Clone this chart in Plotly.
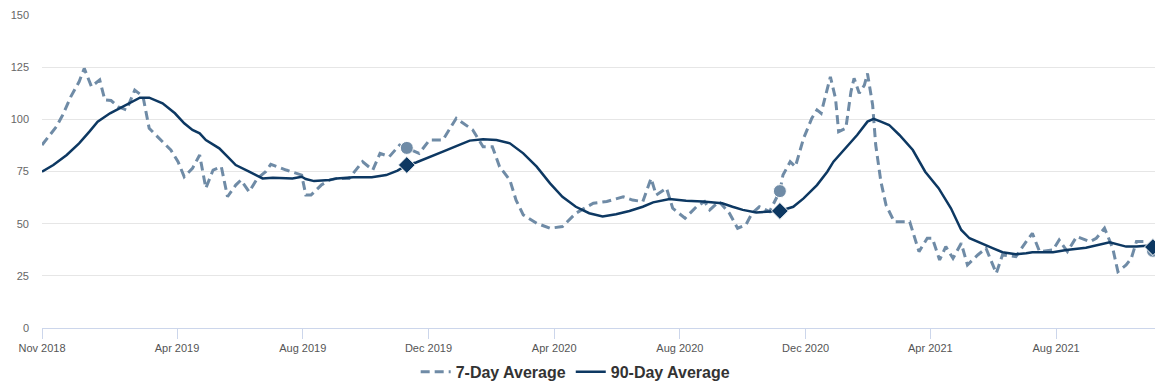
import plotly.graph_objects as go

# 7-Day Average
d7_dates = ["2018-11-21","2018-12-05","2018-12-11","2018-12-19","2018-12-27","2019-01-01","2019-01-08","2019-01-16",
 "2019-01-21","2019-01-27","2019-02-03","2019-02-11","2019-02-19","2019-02-27","2019-03-05","2019-03-18","2019-03-26",
 "2019-04-02","2019-04-08","2019-04-16","2019-04-23","2019-04-29","2019-05-06","2019-05-14","2019-05-20","2019-05-28",
 "2019-06-02","2019-06-10","2019-06-18","2019-06-26","2019-07-01","2019-07-16","2019-07-31","2019-08-04","2019-08-09",
 "2019-08-19","2019-08-27","2019-09-03","2019-09-15","2019-09-28","2019-10-08","2019-10-15","2019-10-24","2019-11-03",
 "2019-11-10","2019-11-22","2019-12-02","2019-12-15","2019-12-28","2020-01-13","2020-01-23","2020-02-01","2020-02-08",
 "2020-02-18","2020-02-24","2020-03-02","2020-03-15","2020-03-28","2020-04-09","2020-04-22","2020-05-09","2020-05-22",
 "2020-06-07","2020-06-16","2020-06-26","2020-07-04","2020-07-09","2020-07-19","2020-07-25","2020-08-06","2020-08-17",
 "2020-08-25","2020-08-30","2020-09-08","2020-09-18","2020-09-26","2020-10-04","2020-10-10","2020-10-17","2020-10-27",
 "2020-11-06","2020-11-09","2020-11-16","2020-11-21","2020-11-29","2020-12-07","2020-12-12","2020-12-16","2020-12-25",
 "2020-12-30","2021-01-02","2021-01-09","2021-01-14","2021-01-17","2021-01-22","2021-01-27","2021-01-30","2021-02-04",
 "2021-02-07","2021-02-12","2021-02-17","2021-02-25","2021-03-12","2021-03-21","2021-03-29","2021-04-03","2021-04-10",
 "2021-04-16","2021-04-23","2021-05-01","2021-05-07","2021-05-17","2021-05-25","2021-06-04","2021-06-10","2021-06-23",
 "2021-07-03","2021-07-09","2021-07-16","2021-07-29","2021-08-04","2021-08-12","2021-08-21","2021-09-03","2021-09-09",
 "2021-09-17","2021-09-25","2021-09-30","2021-10-08","2021-10-13","2021-10-18","2021-10-26","2021-11-03"]
d7_values = [87.7,96.5,102,110.9,118,124.4,115.7,118.9,
 109.3,109,106,104.5,114,111,95.7,89.3,85.3,
 79.7,72.5,76.5,82.9,67,75.7,77.3,62.9,68.5,
 70.9,65.3,71.7,74.9,78.4,75.7,73.3,63.7,63.7,
 68.5,70.9,71.7,71.7,79.7,75.7,83.7,82.1,87.7,
 86.3,83.7,90.1,90.1,100.5,94.9,86.9,86.9,77.3,
 70.9,61.3,54.2,50.2,47.8,48.6,55,59.8,60.6,
 62.9,61.3,60.6,71.7,63.7,67,57.4,52.6,58.1,
 60.6,56.6,60.6,55,47.8,49.4,55,58.1,55.8,
 65.6,73.3,79.7,77.3,90.9,100.5,104.5,102.9,120.4,
 110,94.1,95.7,113.3,119.7,112.5,116.4,122,106.9,
 87.7,70.2,58.9,50.9,50.9,36.6,43,43,32.6,
 39,33.4,40.6,30.2,35,38.2,26.2,35,34.2,
 41.4,45.4,36.6,37.4,42.2,36.6,43.8,41.4,43,
 47.8,38.2,27,30.2,33.4,41.4,41.4,37]

# 90-Day Average
d90_dates = ["2018-11-21","2018-12-02","2018-12-15","2018-12-27","2019-01-06","2019-01-14","2019-01-26","2019-02-04",
 "2019-02-14","2019-02-24","2019-03-05","2019-03-18","2019-03-30","2019-04-08","2019-04-16","2019-04-23","2019-04-29",
 "2019-05-12","2019-05-20","2019-05-28","2019-06-10","2019-06-23","2019-07-03","2019-07-16","2019-07-22","2019-07-31",
 "2019-08-04","2019-08-12","2019-08-27","2019-09-03","2019-09-19","2019-10-07","2019-10-21","2019-11-01","2019-11-10",
 "2019-11-19","2019-12-02","2019-12-15","2019-12-28","2020-01-10","2020-01-23","2020-02-05","2020-02-18","2020-03-02",
 "2020-03-15","2020-03-28","2020-04-09","2020-04-22","2020-05-05","2020-05-18","2020-05-31","2020-06-13","2020-06-26",
 "2020-07-06","2020-07-22","2020-08-07","2020-08-23","2020-09-11","2020-09-21","2020-10-01","2020-10-14","2020-10-27",
 "2020-11-06","2020-11-19","2020-11-29","2020-12-12","2020-12-22","2020-12-28","2021-01-10","2021-01-20","2021-01-30",
 "2021-02-05","2021-02-12","2021-02-20","2021-03-02","2021-03-15","2021-03-27","2021-04-09","2021-04-21","2021-05-01",
 "2021-05-09","2021-05-22","2021-06-01","2021-06-10","2021-06-23","2021-07-03","2021-07-09","2021-07-29","2021-08-11",
 "2021-08-30","2021-09-12","2021-09-22","2021-10-08","2021-10-18","2021-10-28","2021-11-03"]
d90_values = [74.9,78.1,82.9,88.5,94.1,98.9,102.9,105.3,
 107.7,110.4,110.4,107.7,102.9,98.1,94.9,93.3,90.1,
 86.1,82.1,78.1,74.9,71.7,72,72,71.7,72.5,
 71.4,70.4,70.9,71.7,72.2,72.2,73.3,75.4,78.1,
 79.3,81.8,84.5,87.2,89.8,90.4,90.1,88.5,83.7,
 77.3,69.3,62.9,58.1,55,53.4,54.5,56.1,58.1,
 60.2,61.8,61,60.6,59.8,58.1,56.6,55.4,55.8,
 56.1,58.1,62.1,68.5,74.9,79.7,86.9,92.5,98.9,
 100.2,98.9,97.3,92.5,85.3,74.9,67,57.4,47,
 43,40.1,38.2,36.3,35.3,35.8,36.3,36.3,37.4,
 38.5,40.1,41.1,39,39,39.4,38.8]

# highlighted points (one per year)
mark_dates = ["2019-11-10", "2020-11-06", "2021-11-03"]
mark7_values = [86.3, 65.6, 37]
mark90_values = [78.1, 56.1, 38.8]

x_tick_vals = ["2018-11-21","2019-04-01","2019-08-01","2019-12-01","2020-04-01",
               "2020-08-01","2020-12-01","2021-04-01","2021-08-01"]
x_tick_text = ["Nov 2018","Apr 2019","Aug 2019","Dec 2019","Apr 2020",
               "Aug 2020","Dec 2020","Apr 2021","Aug 2021"]
y_tick_vals = [0, 25, 50, 75, 100, 125, 150]

C7 = "#6f8ba6"
C90 = "#0d3862"
FONT = "Liberation Sans, Arial, sans-serif"

fig = go.Figure()
fig.add_trace(go.Scatter(x=d7_dates, y=d7_values, mode="lines", name="7-Day Average",
                         line=dict(color=C7, width=3, dash="9px,5px")))
fig.add_trace(go.Scatter(x=d90_dates, y=d90_values, mode="lines", name="90-Day Average",
                         line=dict(color=C90, width=2.5)))
fig.add_trace(go.Scatter(x=mark_dates, y=mark7_values, mode="markers", showlegend=False,
                         marker=dict(symbol="circle", size=13, color=C7,
                                     line=dict(color="white", width=1))))
fig.add_trace(go.Scatter(x=mark_dates, y=mark90_values, mode="markers", showlegend=False,
                         marker=dict(symbol="diamond", size=13, color=C90,
                                     line=dict(color="white", width=1))))

fig.update_layout(
    width=1166, height=392,
    margin=dict(l=42, r=11, t=15, b=64, autoexpand=False),
    paper_bgcolor="white", plot_bgcolor="white",
    font=dict(family=FONT, color="#666666", size=11),
    showlegend=True,
    legend=dict(orientation="h", x=0.4795, xanchor="center", y=-0.14, yanchor="middle",
                font=dict(size=16, color="#333333", family=FONT, weight="bold"),
                itemwidth=30),
    xaxis=dict(type="date", range=["2018-11-21", "2021-11-05"], automargin=False,
               tickvals=x_tick_vals, ticktext=x_tick_text,
               showgrid=False, showline=True, linecolor="#ccd6eb", linewidth=1,
               ticks="outside", ticklen=10, tickcolor="#ccd6eb", tickwidth=1,
               tickfont=dict(size=11, color="#555555"), zeroline=False),
    yaxis=dict(range=[0, 150], tickvals=y_tick_vals, showgrid=True, gridcolor="#e6e6e6",
               gridwidth=1, zeroline=False, showline=False, ticks="", automargin=False,
               ticklabelstandoff=12, tickfont=dict(size=11, color="#666666")),
)

fig.write_html("out.html", config={"displayModeBar": False},
               post_script="document.body.style.margin='0';document.body.style.padding='0';")
